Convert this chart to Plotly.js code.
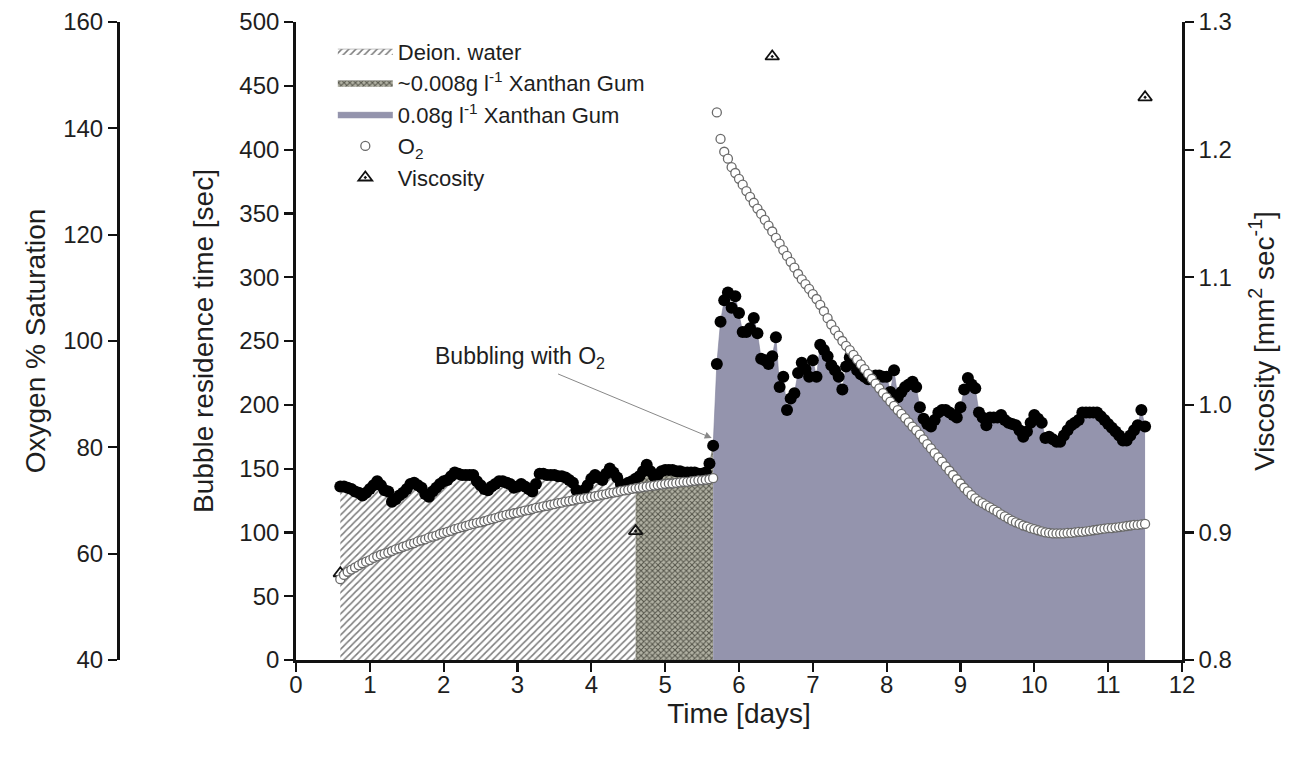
<!DOCTYPE html>
<html><head><meta charset="utf-8">
<script src="https://cdn.plot.ly/plotly-3.0.1.min.js"></script>
<style>html,body{margin:0;padding:0;background:#fff}#chart{width:1295px;height:757px}</style>
</head><body><div id="chart"></div>
<script>
const days = [0.6,0.65,0.7,0.75,0.8,0.85,0.9,0.95,
1,1.05,1.1,1.15,1.2,1.25,1.3,1.35,1.4,1.45,1.5,1.55,1.6,1.65,1.7,1.75,1.8,1.85,1.9,1.95,
2,2.05,2.1,2.15,2.2,2.25,2.3,2.35,2.4,2.45,2.5,2.55,2.6,2.65,2.7,2.75,2.8,2.85,2.9,2.95,
3,3.05,3.1,3.15,3.2,3.25,3.3,3.35,3.4,3.45,3.5,3.55,3.6,3.65,3.7,3.75,3.8,3.85,3.9,3.95,
4,4.05,4.1,4.15,4.2,4.25,4.3,4.35,4.4,4.45,4.5,4.55,4.6,4.65,4.7,4.75,4.8,4.85,4.9,4.95,
5,5.05,5.1,5.15,5.2,5.25,5.3,5.35,5.4,5.45,5.5,5.55,5.6,5.65,5.7,5.75,5.8,5.85,5.9,5.95,
6,6.05,6.1,6.15,6.2,6.25,6.3,6.35,6.4,6.45,6.5,6.55,6.6,6.65,6.7,6.75,6.8,6.85,6.9,6.95,
7,7.05,7.1,7.15,7.2,7.25,7.3,7.35,7.4,7.45,7.5,7.55,7.6,7.65,7.7,7.75,7.8,7.85,7.9,7.95,
8,8.05,8.1,8.15,8.2,8.25,8.3,8.35,8.4,8.45,8.5,8.55,8.6,8.65,8.7,8.75,8.8,8.85,8.9,8.95,
9,9.05,9.1,9.15,9.2,9.25,9.3,9.35,9.4,9.45,9.5,9.55,9.6,9.65,9.7,9.75,9.8,9.85,9.9,9.95,
10,10.05,10.1,10.15,10.2,10.25,10.3,10.35,10.4,10.45,10.5,10.55,10.6,10.65,10.7,10.75,10.8,10.85,10.9,10.95,
11,11.05,11.1,11.15,11.2,11.25,11.3,11.35,11.4,11.45,11.5];

const bubbleTime = [136,136,135,134,132,131,129,131,
134,137,140,137,133,132,124,126,129,131,134,138,139,137,135,130,128,132,135,138,
140,141,144,147,146,145,145,145,145,140,137,134,133,136,138,140,140,139,138,135,
136,138,136,134,132,138,146,146,145,145,145,144,144,143,141,139,133,129,133,137,
142,145,143,141,146,150,147,143,138,137,139,140,142,144,148,153,148,144,145,148,
149,149,149,148,148,147,147,147,147,146,146,147,154,168,232,265,282,288,276,285,
272,257,257,260,268,256,236,235,232,238,253,214,222,196,205,209,225,233,228,222,
235,222,247,243,238,231,227,222,212,230,237,232,227,224,222,220,222,223,223,222,
222,210,227,206,210,214,216,218,214,198,189,185,183,188,194,196,196,194,192,190,
198,212,221,216,213,194,190,184,190,190,190,192,188,186,185,184,180,175,179,186,
192,189,186,174,175,173,171,171,176,180,184,186,188,194,194,194,194,194,191,188,
185,182,179,176,172,172,176,180,184,196,183];

const oxygen = [55.2,56.0,56.6,57.0,57.4,57.8,58.2,58.5,
58.8,59.2,59.5,59.8,60.0,60.2,60.5,60.8,61.0,61.3,61.5,61.8,62.0,62.3,62.5,62.7,63.0,63.2,63.4,63.7,
63.9,64.1,64.3,64.6,64.8,65.0,65.2,65.4,65.6,65.8,65.9,66.1,66.3,66.5,66.7,66.9,67.1,67.3,67.4,67.6,
67.7,67.9,68.1,68.2,68.4,68.6,68.7,68.9,69.0,69.2,69.3,69.5,69.6,69.8,69.9,70.0,70.2,70.3,70.4,70.5,
70.7,70.8,70.9,71.1,71.2,71.4,71.5,71.6,71.8,71.9,72.0,72.2,72.3,72.4,72.5,72.6,72.7,72.8,72.9,73.0,
73.1,73.2,73.2,73.3,73.4,73.5,73.5,73.6,73.7,73.8,73.8,73.9,74.0,74.2,143.0,138.0,135.6,134.3,132.7,131.6,
130.5,129.4,128.2,127.1,126.0,124.9,123.9,122.8,121.7,120.6,119.4,118.3,117.1,116.0,114.9,113.8,112.6,111.6,110.7,109.8,
108.8,107.9,106.8,105.6,104.3,103.1,102.0,101.0,100.0,99.1,98.3,97.4,96.5,95.6,94.7,93.8,92.9,92.0,91.1,90.2,
89.4,88.6,87.8,87.0,86.3,85.5,84.7,83.9,83.2,82.4,81.5,80.6,79.8,78.9,78.1,77.3,76.4,75.6,74.8,74.0,
73.2,72.4,71.7,71.0,70.4,69.9,69.5,69.1,68.7,68.3,67.9,67.4,67.0,66.6,66.2,65.9,65.6,65.3,65.1,64.8,
64.6,64.4,64.2,64.0,63.9,63.8,63.8,63.8,63.8,63.9,63.9,64.0,64.1,64.1,64.2,64.3,64.4,64.5,64.6,64.7,
64.8,64.8,64.9,65.0,65.1,65.2,65.3,65.4,65.4,65.5,65.6];

const viscDays = [0.6, 4.6, 6.45, 11.5];
const viscosity = [0.868, 0.901, 1.273, 1.241];

const phaseNames = ['Deion. water', '~0.008g l<sup>-1</sup> Xanthan Gum', '0.08g l<sup>-1</sup> Xanthan Gum'];
const phaseStart = [0.6, 4.6, 5.65];
const phaseEnd = [4.6, 5.65, 11.5];

const FONT = 'Arial, "Liberation Sans", sans-serif';
const TXT = '#1e1e1e';
const phaseStyles = [
  {fillcolor:'#ffffff', line:{color:'#9a9a9a', width:0.6}, fillpattern:{shape:'/', fgcolor:'#7c7c7c', bgcolor:'#ffffff', size:5, solidity:0.3}},
  {fillcolor:'#9a9a8c', line:{color:'#77776e', width:0.6}, fillpattern:{shape:'x', fgcolor:'#55554b', bgcolor:'#b2b2a4', size:4, solidity:0.45}},
  {fillcolor:'#9494ad', line:{color:'#80809a', width:0.6}}
];

const traces = [];
phaseNames.forEach((name, k) => {
  const xs = [], ys = [];
  days.forEach((d, i) => {
    if (d >= phaseStart[k] - 1e-9 && d <= phaseEnd[k] + 1e-9) { xs.push(d); ys.push(bubbleTime[i]); }
  });
  traces.push(Object.assign({
    type:'scatter', mode:'lines', x:xs, y:ys, fill:'tozeroy', name:name,
    xaxis:'x', yaxis:'y', hoverinfo:'skip'
  }, phaseStyles[k]));
});

traces.push({type:'scatter', mode:'markers', x:days, y:bubbleTime, showlegend:false,
  marker:{symbol:'circle', size:12, color:'#000'}, xaxis:'x', yaxis:'y'});

traces.push({type:'scatter', mode:'markers', x:days, y:oxygen, name:'O<sub>2</sub>',
  marker:{symbol:'circle', size:9, color:'#fff', line:{color:'#6a6a6a', width:1.3}}, xaxis:'x', yaxis:'y3'});

traces.push({type:'scatter', mode:'markers', x:viscDays, y:viscosity, name:'Viscosity',
  marker:{symbol:'triangle-up-open-dot', size:12, color:'#111', line:{color:'#111', width:1.8}}, xaxis:'x', yaxis:'y2'});

const axisCommon = {
  ticks:'outside', ticklen:9, tickwidth:2.2, tickcolor:'#111',
  showline:true, linewidth:2.8, linecolor:'#111', showgrid:false, zeroline:false,
  tickfont:{size:24, family:FONT, color:TXT}
};
const titleFont = {size:28, family:FONT, color:TXT};

const layout = {
  width:1295, height:757,
  margin:{l:0, r:0, t:0, b:0},
  paper_bgcolor:'#fff', plot_bgcolor:'rgba(0,0,0,0)',
  font:{family:FONT, size:22, color:TXT},
  showlegend:true,
  legend:{x:0.257, y:0.96, xanchor:'left', yanchor:'top', bgcolor:'rgba(0,0,0,0)',
    font:{size:22, family:FONT, color:TXT}, itemwidth:55, tracegroupgap:0},
  xaxis:Object.assign({}, axisCommon, {domain:[296/1295, 1182/1295], range:[0,12], dtick:1, tick0:0,
    ticklabelstandoff:-8,
    anchor:'y', title:{text:'Time [days]', font:titleFont, standoff:6}}),
  yaxis:Object.assign({}, axisCommon, {domain:[97/757, 735/757], range:[0,500], dtick:50, tick0:0,
    anchor:'x', title:{text:'Bubble residence time [sec]', font:titleFont, standoff:18}}),
  yaxis2:Object.assign({}, axisCommon, {overlaying:'y', side:'right', anchor:'x', range:[0.8,1.3], dtick:0.1, tick0:0.8,
    tickformat:'.1f', title:{text:'Viscosity [mm<sup>2</sup> sec<sup>-1</sup>]', font:titleFont, standoff:24}}),
  yaxis3:Object.assign({}, axisCommon, {overlaying:'y', side:'left', anchor:'free', position:118/1295,
    range:[40,160], dtick:20, tick0:40,
    title:{text:'Oxygen % Saturation', font:titleFont, standoff:8}}),
  annotations:[{
    x:5.63, y:174, xref:'x', yref:'y', ax:-192, ay:-80,
    text:'Bubbling with O<sub>2</sub>', showarrow:true, arrowhead:2, arrowsize:1.4, arrowwidth:1,
    arrowcolor:'#888', font:{size:23, family:FONT, color:TXT}
  }]
};

Plotly.newPlot('chart', traces, layout, {displayModeBar:false, staticPlot:true});
</script>
</body></html>
